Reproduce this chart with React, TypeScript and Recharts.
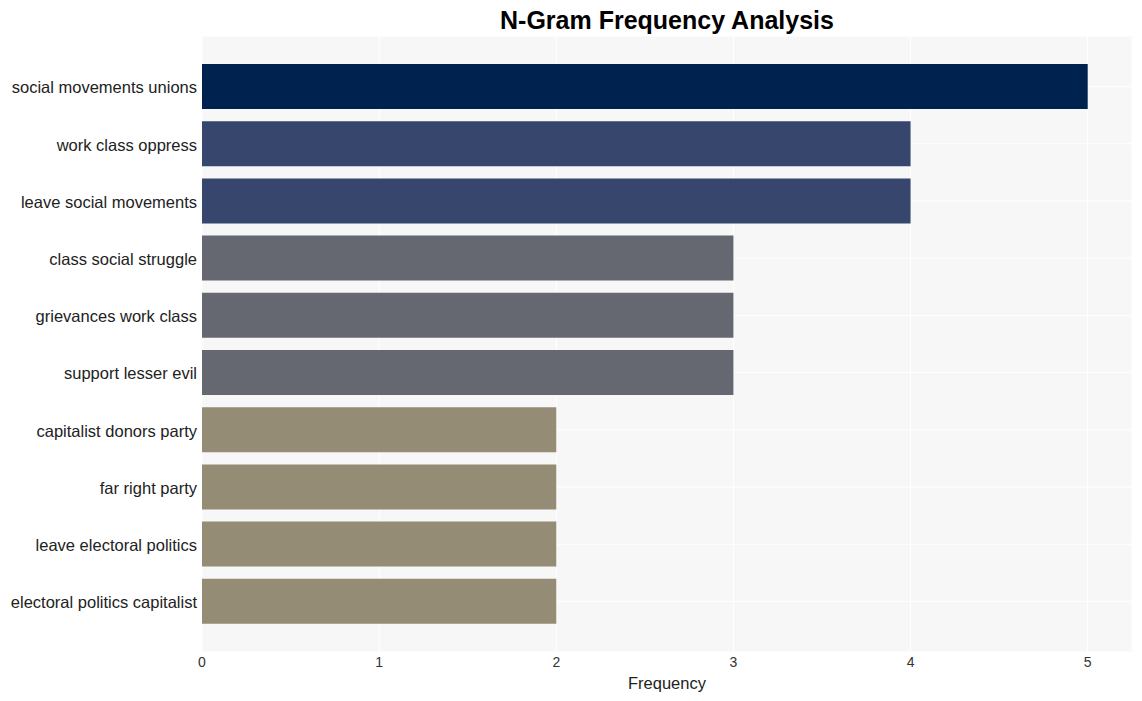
import React from "react";
import { BarChart, Bar, XAxis, YAxis, CartesianGrid, Cell, Label } from "recharts";

const categories = [
  "social movements unions",
  "work class oppress",
  "leave social movements",
  "class social struggle",
  "grievances work class",
  "support lesser evil",
  "capitalist donors party",
  "far right party",
  "leave electoral politics",
  "electoral politics capitalist",
];
const frequencies = [5, 4, 4, 3, 3, 3, 2, 2, 2, 2];
const xTicks = [0, 1, 2, 3, 4, 5];
const colorByValue: Record<number, string> = {
  5: "#00224e",
  4: "#36466d",
  3: "#666871",
  2: "#948c75",
};

const data = categories.map((name, i) => ({ name, value: frequencies[i] }));

const FONT = "'Liberation Sans', Arial, Helvetica, sans-serif";

export default function App() {
  return (
    <div style={{ position: "absolute", left: 0, top: 0, width: 1142, height: 701, background: "#fff", fontFamily: FONT }}>
      <div
        style={{
          position: "absolute",
          left: 202,
          width: 930,
          top: 5,
          textAlign: "center",
          fontSize: 25,
          fontWeight: "bold",
          color: "#000",
          lineHeight: "30px",
        }}
      >
        N-Gram Frequency Analysis
      </div>
      <BarChart
        width={1142}
        height={701}
        data={data}
        layout="vertical"
        margin={{ top: 36, right: 10, left: 0, bottom: 0 }}
        barSize={45}
      >
        <CartesianGrid fill="#f7f7f7" stroke="#ffffff" strokeWidth={1} />
        <XAxis
          type="number"
          domain={[0, 5.25]}
          ticks={xTicks}
          axisLine={false}
          tickLine={false}
          tickSize={0}
          tickMargin={5}
          height={49}
          tick={{ fontSize: 14, fill: "#333", fontFamily: FONT }}
        >
          <Label value="Frequency" position="insideBottom" offset={12} style={{ fontSize: 16.5, fill: "#222", fontFamily: FONT }} />
        </XAxis>
        <YAxis
          type="category"
          dataKey="name"
          width={202}
          axisLine={false}
          tickLine={false}
          tickSize={0}
          tickMargin={5}
          padding={{ top: 22, bottom: 22 }}
          interval={0}
          tick={{ fontSize: 16.5, fill: "#222", fontFamily: FONT, dy: 1 }}
        />
        <Bar dataKey="value" isAnimationActive={false}>
          {data.map((d, i) => (
            <Cell key={i} fill={colorByValue[d.value]} />
          ))}
        </Bar>
      </BarChart>
    </div>
  );
}
